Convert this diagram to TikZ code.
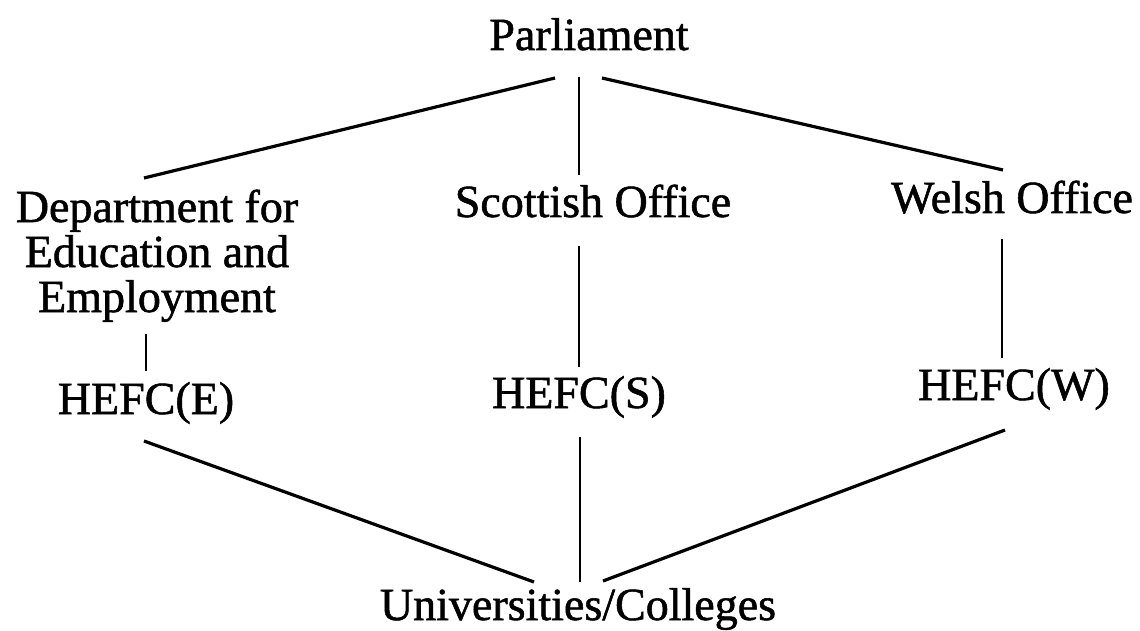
\documentclass[tikz,border=0pt]{standalone}
\usepackage{fontspec}
\setmainfont{Liberation Serif}
\newfontfamily\heavyserif{Liberation Serif}[BoldFont={Liberation Serif},BoldFeatures={FakeBold=1.2}]
\begin{document}
\begin{tikzpicture}[x=1pt,y=-1pt,
  lbl/.style={inner sep=0pt,anchor=base,font=\heavyserif\bfseries\fontsize{46}{45}\selectfont},
  diag/.style={line width=3.2pt},
  vert/.style={line width=2.4pt}]
\useasboundingbox (0,0) rectangle (1140,631);
% nodes
\node[lbl] (parl) at (589,50) {Parliament};
\node[lbl,align=center] (dfee) at (157,312) {Department for\\Education and\\Employment};
\node[lbl] (scot) at (593,217) {Scottish Office};
\node[lbl] (wels) at (1012,213) {Welsh Office};
\node[lbl] (he) at (146,414) {HEFC(E)};
\node[lbl] (hs) at (579,408) {HEFC(S)};
\node[lbl] (hw) at (1014,400) {HEFC(W)};
\node[lbl] (uni) at (578,620) {Universities/Colleges};
% connector ends
\coordinate (parlL) at (555,78);
\coordinate (parlM) at (579,77);
\coordinate (parlR) at (602,78);
\coordinate (dfeeT) at (144,178);
\coordinate (scotT) at (579,175);
\coordinate (welsT) at (1003,170);
\coordinate (dfeeB) at (146,334);
\coordinate (heT) at (146,371);
\coordinate (scotB) at (579,246);
\coordinate (hsT) at (579,367);
\coordinate (welsB) at (1002,239);
\coordinate (hwT) at (1002,358);
\coordinate (heB) at (144,441);
\coordinate (hsB) at (580,437);
\coordinate (hwB) at (1005,430);
\coordinate (uniL) at (534,582);
\coordinate (uniM) at (580,582);
\coordinate (uniR) at (603,581);
% connectors
\draw[diag] (parlL) -- (dfeeT);
\draw[vert] (parlM) -- (scotT);
\draw[diag] (parlR) -- (welsT);
\draw[vert] (dfeeB) -- (heT);
\draw[vert] (scotB) -- (hsT);
\draw[vert] (welsB) -- (hwT);
\draw[diag] (heB) -- (uniL);
\draw[vert] (hsB) -- (uniM);
\draw[diag] (hwB) -- (uniR);
\end{tikzpicture}
\end{document}
